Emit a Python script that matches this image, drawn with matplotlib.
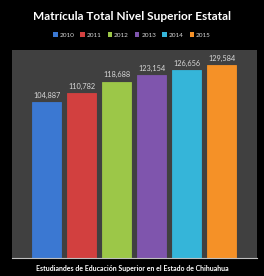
import matplotlib
matplotlib.use('Agg')
import matplotlib.pyplot as plt
from matplotlib.patches import Patch

years = ['2010', '2011', '2012', '2013', '2014', '2015']
enrollment = [104887, 110782, 118688, 123154, 126656, 129584]
colors = ['#3b78d2', '#d2403f', '#9cc748', '#7f55ad', '#35b5d9', '#f59127']

plt.rcParams['font.family'] = ['Lato', 'DejaVu Sans']

fig = plt.figure(figsize=(2.64, 2.76), dpi=100, facecolor='black')
ax = fig.add_axes([12 / 264, 18 / 276, 245 / 264, 208 / 276])
ax.set_facecolor('#404040')

x = list(range(len(years)))
bars = ax.bar(x, enrollment, width=0.83, color=colors,
              edgecolor=[c for c in colors], linewidth=0.6)
for xi, v in zip(x, enrollment):
    ax.text(xi, v + 2200, f'{v:,}', ha='center', va='bottom',
            color='#d8d8d8', fontsize=5.3)

ax.set_xlim(-0.99, 6.0)
ax.set_ylim(0, 140000)
ax.set_xticks([])
ax.set_yticks([])
for side in ['top', 'left', 'right']:
    ax.spines[side].set_visible(False)
ax.spines['bottom'].set_color('#bfbfbf')
ax.spines['bottom'].set_linewidth(0.8)

fig.text(0.5, 1 - 16 / 276, 'Matrícula Total Nivel Superior Estatal',
         ha='center', va='center', color='white', fontsize=8.6,
         fontweight='bold')

handles = [Patch(facecolor=c, label=y) for c, y in zip(colors, years)]
fig.legend(handles=handles, loc='center', bbox_to_anchor=(0.5, 1 - 35 / 276),
           ncol=6, frameon=False, fontsize=4.6, labelcolor='#d8d8d8',
           handlelength=0.7, handleheight=0.7, handletextpad=0.3,
           columnspacing=0.95)

fig.text(0.5, 1 - 268 / 276,
         'Estudiandes de Educación Superior en el Estado de Chihuahua',
         ha='center', va='center', color='white', fontsize=5.0,
         fontweight='bold')

fig.savefig('out.png', dpi=100, facecolor='black')
